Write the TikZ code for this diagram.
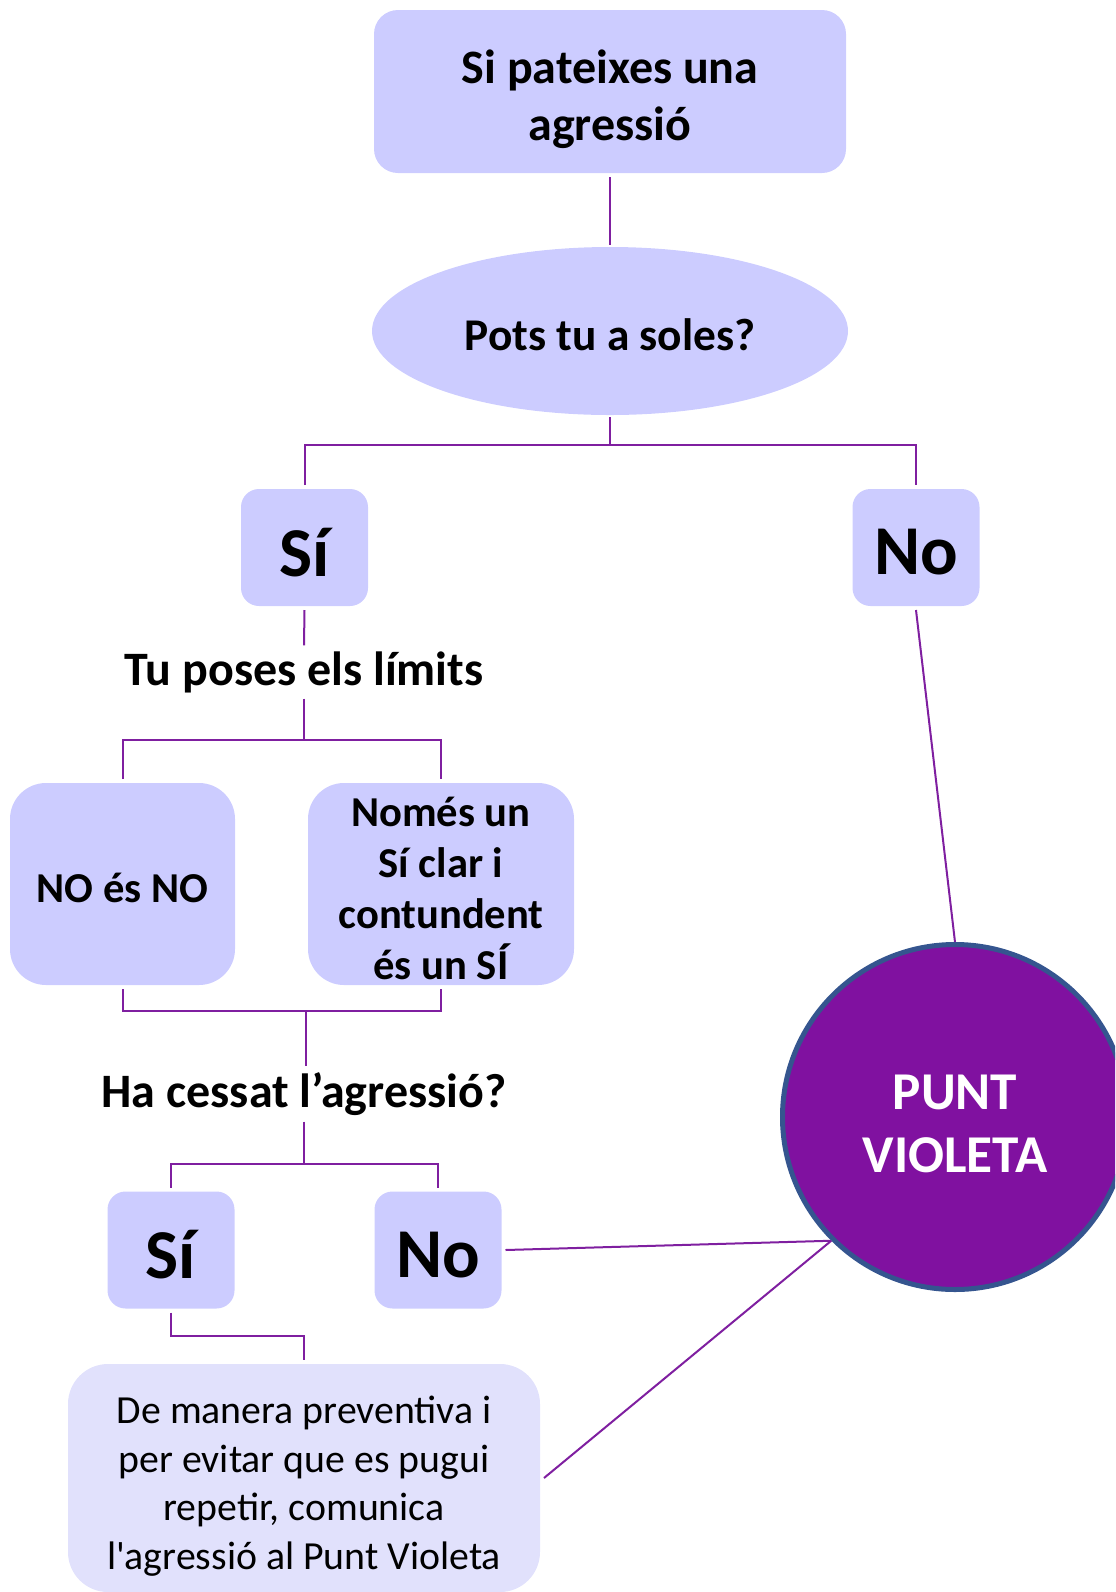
\documentclass[tikz,border=0pt]{standalone}
\usepackage{fontspec}
\setmainfont{Carlito}
\newfontfamily\regfont{Carlito}[Ligatures=TeXOff]
\usetikzlibrary{shapes.geometric,calc}
\definecolor{boxfill}{HTML}{CCCCFF}
\definecolor{lightfill}{HTML}{E1E1FC}
\definecolor{violet}{HTML}{8011A0}
\definecolor{ring}{HTML}{35558F}
\definecolor{link}{HTML}{7F1FA0}
\begin{document}
\begin{tikzpicture}[x=0.5pt,y=-0.5pt,
  box/.style={fill=boxfill,draw=none,rounded corners=12pt,outer sep=2pt,inner sep=0pt},
  yn/.style={box,minimum width=63.5pt,minimum height=58.5pt,rounded corners=9pt},
  yntext/.style={inner sep=0pt,font=\bfseries\fontsize{35}{40}\selectfont},
  txt/.style={align=center,inner sep=0pt},
  label/.style={align=center,font=\bfseries\fontsize{24}{28.5}\selectfont,inner sep=1pt,outer sep=2pt},
  link/.style={draw=link,line width=1pt}]
\useasboundingbox (0,0) rectangle (1115,1592);
\clip (0,0) rectangle (1115,1592);
% shapes
\node[box,minimum width=236pt,minimum height=81.5pt] (top) at (610,91.5) {};
\node[ellipse,fill=boxfill,minimum width=238pt,minimum height=84pt,inner sep=0pt,outer sep=1pt] (ell) at (610,331) {};
\node[yn] (si1) at (304.5,547.5) {};
\node[yn] (no1) at (916,547.5) {};
\node[box,minimum width=112.5pt,minimum height=101pt,rounded corners=18pt] (noes) at (122.5,884) {};
\node[box,minimum width=133pt,minimum height=101pt,rounded corners=18pt] (nomes) at (441,884) {};
\node[yn] (si2) at (171,1250) {};
\node[yn] (no2) at (438,1250) {};
\node[box,fill=lightfill,minimum width=236pt,minimum height=114pt,rounded corners=20pt] (bottom) at (304,1478) {};
\node[circle,fill=violet,draw=ring,line width=2.5pt,minimum size=172.5pt,inner sep=0pt] (punt) at (955,1117) {};
% texts
\node[txt,font=\bfseries\fontsize{24}{28.5}\selectfont] (top-t) at ([yshift=-4pt]top.center) {Si pateixes una\\agressió};
\node[txt,font=\bfseries\fontsize{22.7}{27.5}\selectfont] (ell-t) at ([yshift=-2pt]ell.center) {Pots tu a soles?};
\node[yntext] (si1-t) at ([yshift=-2.5pt]si1.center) {Sí};
\node[yntext] (no1-t) at ([yshift=-2.5pt]no1.center) {No};
\node[label] (tupos) at (304,672) {Tu poses els límits};
\node[txt,font=\bfseries\fontsize{21.3}{25.5}\selectfont] (noes-t) at ([yshift=-2pt]noes.center) {NO és NO};
\node[txt,font=\bfseries\fontsize{21.3}{25.5}\selectfont] (nomes-t) at ([yshift=-2pt]nomes.center) {Només un\\Sí clar i\\contundent\\és un SÍ};
\node[label] (ha) at (304,1094) {Ha cessat l’agressió?};
\node[yntext] (si2-t) at ([yshift=-2.5pt]si2.center) {Sí};
\node[yntext] (no2-t) at ([yshift=-2.5pt]no2.center) {No};
\node[txt,font=\regfont\fontsize{19.9}{24.3}\selectfont] (bottom-t) at ([yshift=-4pt]bottom.center) {De manera preventiva i\\per evitar que es pugui\\repetir, comunica\\l'agressió al Punt Violeta};
\node[txt,text=white,font=\bfseries\fontsize{26.6}{31.5}\selectfont] (punt-t) at ([yshift=-3.5pt]punt.center) {PUNT\\VIOLETA};
% junctions
\coordinate (j1) at (610,445);
\coordinate (j2) at (304,740);
\coordinate (j3) at (306,1011);
\coordinate (j4) at (304,1164);
\coordinate (j5) at (304,1336);
% connectors
\draw[link] (top.south) -- (ell.north);
\draw[link] (ell.south) -- (j1);
\draw[link] (si1.north) |- (j1) -| (no1.north);
\draw[link] (si1.south) -- (tupos.north);
\draw[link] (tupos.south) -- (j2);
\draw[link] (noes.north) |- (j2) -| (nomes.north);
\draw[link] (noes.south) |- (j3) -| (nomes.south);
\draw[link] (j3) -- (j3 |- ha.north);
\draw[link] (ha.south) -- (j4);
\draw[link] (si2.north) |- (j4) -| (no2.north);
\draw[link] (si2.south) |- (j5) -- (bottom.north);
\draw[link] (no1.south) -- (punt.north);
\draw[link] (no2.east) -- (punt.south west);
\draw[link] (bottom.east) -- (punt.south west);
\end{tikzpicture}
\end{document}
